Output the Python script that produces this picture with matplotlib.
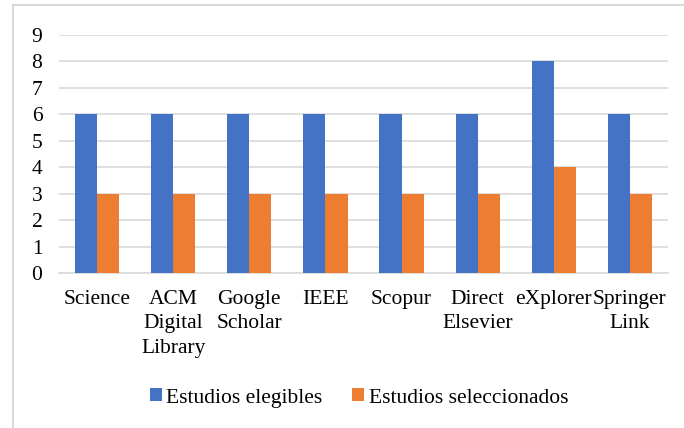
import numpy as np
import matplotlib.pyplot as plt
from matplotlib.patches import Rectangle

# chart data
categories = ['Science', 'ACM\nDigital\nLibrary', 'Google\nScholar', 'IEEE',
              'Scopur', 'Direct\nElsevier', 'eXplorer', 'Springer\nLink']
elegibles = [6, 6, 6, 6, 6, 6, 8, 6]
seleccionados = [3, 3, 3, 3, 3, 3, 4, 3]

plt.rcParams['font.family'] = ['Liberation Serif', 'DejaVu Serif']

W, H = 684, 428
fig = plt.figure(figsize=(W / 100, H / 100), dpi=100)
ax = fig.add_axes([59 / W, 1 - 273 / H, (668 - 59) / W, (273 - 35) / H])

x = np.arange(len(categories))
bw = 0.29
ax.bar(x - bw / 2, elegibles, width=bw, color='#4472c4', label='Estudios elegibles', zorder=3)
ax.bar(x + bw / 2, seleccionados, width=bw, color='#ed7d31', label='Estudios seleccionados', zorder=3)

ax.set_xlim(-0.5, len(categories) - 0.5)
ax.set_ylim(0, 9)
ax.set_yticks(range(0, 10))
ax.tick_params(axis='y', length=0, labelsize=15.5, pad=12, colors='black')
ax.set_xticks(x)
ax.set_xticklabels(categories, fontsize=15.5, linespacing=1.4)
ax.tick_params(axis='x', length=0, pad=12)

ax.grid(axis='y', color='#d9d9d9', linewidth=1.2, zorder=0)
for s in ['top', 'right', 'left']:
    ax.spines[s].set_visible(False)
ax.spines['bottom'].set_color('#d9d9d9')
ax.spines['bottom'].set_linewidth(1.2)

ax.legend(loc='center', bbox_to_anchor=(359 / W, 1 - 398 / H), bbox_transform=fig.transFigure,
          ncol=2, frameon=False, fontsize=15.5, handlelength=0.55, handleheight=0.55,
          handletextpad=0.2, columnspacing=1.4)

# outer chart border (only left and top show in the picture)
fig.patches.append(Rectangle((13 / W, -0.1), 1.0, 1 - 5 / H + 0.1, transform=fig.transFigure,
                             fill=False, edgecolor='#d9d9d9', linewidth=1.5))

fig.savefig('out.png', dpi=100, facecolor='white')
